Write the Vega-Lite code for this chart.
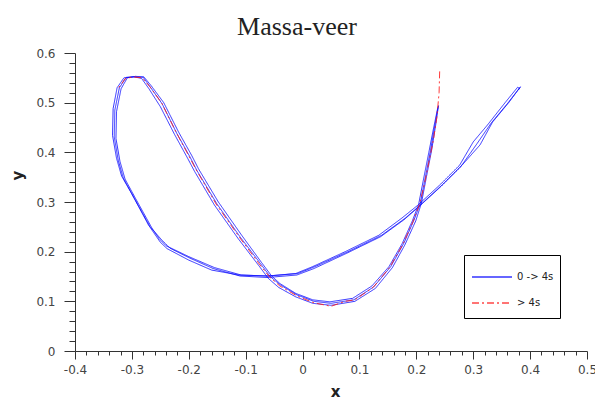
{
  "$schema": "https://vega.github.io/schema/vega-lite/v6.json",
  "width": 512,
  "height": 298,
  "autosize": {"type": "none"},
  "padding": {"left": 75, "top": 53, "right": 8, "bottom": 48},
  "background": "white",
  "config": {"view": {"stroke": null}},
  "title": {"text": "Massa-veer", "font": "Liberation Serif", "fontSize": 26, "fontWeight": "normal", "color": "#222", "anchor": "middle", "dx": -34, "dy": 31, "offset": 17, "baseline": "alphabetic"},
  "datasets": {
    "d": [
      {"s":"0 -> 4s","i":0,"x":0.238,"y":0.490},
      {"s":"0 -> 4s","i":1,"x":0.232,"y":0.451},
      {"s":"0 -> 4s","i":2,"x":0.225,"y":0.404},
      {"s":"0 -> 4s","i":3,"x":0.216,"y":0.351},
      {"s":"0 -> 4s","i":4,"x":0.207,"y":0.297},
      {"s":"0 -> 4s","i":5,"x":0.196,"y":0.264},
      {"s":"0 -> 4s","i":6,"x":0.178,"y":0.217},
      {"s":"0 -> 4s","i":7,"x":0.155,"y":0.170},
      {"s":"0 -> 4s","i":8,"x":0.125,"y":0.129},
      {"s":"0 -> 4s","i":9,"x":0.090,"y":0.103},
      {"s":"0 -> 4s","i":10,"x":0.050,"y":0.096},
      {"s":"0 -> 4s","i":11,"x":0.020,"y":0.100},
      {"s":"0 -> 4s","i":12,"x":-0.010,"y":0.113},
      {"s":"0 -> 4s","i":13,"x":-0.039,"y":0.133},
      {"s":"0 -> 4s","i":14,"x":-0.057,"y":0.150},
      {"s":"0 -> 4s","i":15,"x":-0.074,"y":0.176},
      {"s":"0 -> 4s","i":16,"x":-0.110,"y":0.230},
      {"s":"0 -> 4s","i":17,"x":-0.151,"y":0.297},
      {"s":"0 -> 4s","i":18,"x":-0.186,"y":0.364},
      {"s":"0 -> 4s","i":19,"x":-0.198,"y":0.391},
      {"s":"0 -> 4s","i":20,"x":-0.221,"y":0.438},
      {"s":"0 -> 4s","i":21,"x":-0.247,"y":0.498},
      {"s":"0 -> 4s","i":22,"x":-0.268,"y":0.532},
      {"s":"0 -> 4s","i":23,"x":-0.280,"y":0.551},
      {"s":"0 -> 4s","i":24,"x":-0.295,"y":0.552},
      {"s":"0 -> 4s","i":25,"x":-0.310,"y":0.551},
      {"s":"0 -> 4s","i":26,"x":-0.322,"y":0.530},
      {"s":"0 -> 4s","i":27,"x":-0.330,"y":0.485},
      {"s":"0 -> 4s","i":28,"x":-0.331,"y":0.431},
      {"s":"0 -> 4s","i":29,"x":-0.324,"y":0.384},
      {"s":"0 -> 4s","i":30,"x":-0.315,"y":0.348},
      {"s":"0 -> 4s","i":31,"x":-0.297,"y":0.310},
      {"s":"0 -> 4s","i":32,"x":-0.268,"y":0.250},
      {"s":"0 -> 4s","i":33,"x":-0.247,"y":0.223},
      {"s":"0 -> 4s","i":34,"x":-0.233,"y":0.207},
      {"s":"0 -> 4s","i":35,"x":-0.198,"y":0.187},
      {"s":"0 -> 4s","i":36,"x":-0.157,"y":0.166},
      {"s":"0 -> 4s","i":37,"x":-0.110,"y":0.151},
      {"s":"0 -> 4s","i":38,"x":-0.062,"y":0.148},
      {"s":"0 -> 4s","i":39,"x":-0.010,"y":0.153},
      {"s":"0 -> 4s","i":40,"x":0.020,"y":0.166},
      {"s":"0 -> 4s","i":41,"x":0.078,"y":0.197},
      {"s":"0 -> 4s","i":42,"x":0.137,"y":0.230},
      {"s":"0 -> 4s","i":43,"x":0.178,"y":0.264},
      {"s":"0 -> 4s","i":44,"x":0.204,"y":0.290},
      {"s":"0 -> 4s","i":45,"x":0.243,"y":0.331},
      {"s":"0 -> 4s","i":46,"x":0.278,"y":0.371},
      {"s":"0 -> 4s","i":47,"x":0.307,"y":0.418},
      {"s":"0 -> 4s","i":48,"x":0.331,"y":0.458},
      {"s":"0 -> 4s","i":49,"x":0.360,"y":0.498},
      {"s":"0 -> 4s","i":50,"x":0.381,"y":0.529},
      {"s":"0 -> 4s","i":51,"x":0.378,"y":0.531},
      {"s":"0 -> 4s","i":52,"x":0.356,"y":0.500},
      {"s":"0 -> 4s","i":53,"x":0.325,"y":0.455},
      {"s":"0 -> 4s","i":54,"x":0.300,"y":0.421},
      {"s":"0 -> 4s","i":55,"x":0.276,"y":0.374},
      {"s":"0 -> 4s","i":56,"x":0.241,"y":0.334},
      {"s":"0 -> 4s","i":57,"x":0.202,"y":0.293},
      {"s":"0 -> 4s","i":58,"x":0.175,"y":0.268},
      {"s":"0 -> 4s","i":59,"x":0.134,"y":0.233},
      {"s":"0 -> 4s","i":60,"x":0.075,"y":0.200},
      {"s":"0 -> 4s","i":61,"x":0.018,"y":0.170},
      {"s":"0 -> 4s","i":62,"x":-0.012,"y":0.156},
      {"s":"0 -> 4s","i":63,"x":-0.060,"y":0.151},
      {"s":"0 -> 4s","i":64,"x":-0.112,"y":0.153},
      {"s":"0 -> 4s","i":65,"x":-0.160,"y":0.163},
      {"s":"0 -> 4s","i":66,"x":-0.200,"y":0.183},
      {"s":"0 -> 4s","i":67,"x":-0.238,"y":0.206},
      {"s":"0 -> 4s","i":68,"x":-0.250,"y":0.219},
      {"s":"0 -> 4s","i":69,"x":-0.271,"y":0.254},
      {"s":"0 -> 4s","i":70,"x":-0.300,"y":0.316},
      {"s":"0 -> 4s","i":71,"x":-0.318,"y":0.352},
      {"s":"0 -> 4s","i":72,"x":-0.327,"y":0.388},
      {"s":"0 -> 4s","i":73,"x":-0.334,"y":0.434},
      {"s":"0 -> 4s","i":74,"x":-0.333,"y":0.488},
      {"s":"0 -> 4s","i":75,"x":-0.326,"y":0.530},
      {"s":"0 -> 4s","i":76,"x":-0.314,"y":0.550},
      {"s":"0 -> 4s","i":77,"x":-0.297,"y":0.552},
      {"s":"0 -> 4s","i":78,"x":-0.283,"y":0.549},
      {"s":"0 -> 4s","i":79,"x":-0.270,"y":0.528},
      {"s":"0 -> 4s","i":80,"x":-0.250,"y":0.492},
      {"s":"0 -> 4s","i":81,"x":-0.225,"y":0.436},
      {"s":"0 -> 4s","i":82,"x":-0.202,"y":0.388},
      {"s":"0 -> 4s","i":83,"x":-0.190,"y":0.362},
      {"s":"0 -> 4s","i":84,"x":-0.155,"y":0.294},
      {"s":"0 -> 4s","i":85,"x":-0.113,"y":0.226},
      {"s":"0 -> 4s","i":86,"x":-0.077,"y":0.172},
      {"s":"0 -> 4s","i":87,"x":-0.060,"y":0.146},
      {"s":"0 -> 4s","i":88,"x":-0.042,"y":0.128},
      {"s":"0 -> 4s","i":89,"x":-0.012,"y":0.109},
      {"s":"0 -> 4s","i":90,"x":0.018,"y":0.096},
      {"s":"0 -> 4s","i":91,"x":0.050,"y":0.092},
      {"s":"0 -> 4s","i":92,"x":0.092,"y":0.100},
      {"s":"0 -> 4s","i":93,"x":0.128,"y":0.126},
      {"s":"0 -> 4s","i":94,"x":0.158,"y":0.168},
      {"s":"0 -> 4s","i":95,"x":0.180,"y":0.214},
      {"s":"0 -> 4s","i":96,"x":0.199,"y":0.262},
      {"s":"0 -> 4s","i":97,"x":0.209,"y":0.298},
      {"s":"0 -> 4s","i":98,"x":0.218,"y":0.352},
      {"s":"0 -> 4s","i":99,"x":0.227,"y":0.405},
      {"s":"0 -> 4s","i":100,"x":0.234,"y":0.455},
      {"s":"0 -> 4s","i":101,"x":0.239,"y":0.494},
      {"s":"0 -> 4s","i":102,"x":0.237,"y":0.486},
      {"s":"0 -> 4s","i":103,"x":0.230,"y":0.447},
      {"s":"0 -> 4s","i":104,"x":0.222,"y":0.400},
      {"s":"0 -> 4s","i":105,"x":0.213,"y":0.348},
      {"s":"0 -> 4s","i":106,"x":0.204,"y":0.295},
      {"s":"0 -> 4s","i":107,"x":0.193,"y":0.262},
      {"s":"0 -> 4s","i":108,"x":0.175,"y":0.216},
      {"s":"0 -> 4s","i":109,"x":0.152,"y":0.170},
      {"s":"0 -> 4s","i":110,"x":0.122,"y":0.131},
      {"s":"0 -> 4s","i":111,"x":0.088,"y":0.106},
      {"s":"0 -> 4s","i":112,"x":0.048,"y":0.099},
      {"s":"0 -> 4s","i":113,"x":0.018,"y":0.103},
      {"s":"0 -> 4s","i":114,"x":-0.012,"y":0.116},
      {"s":"0 -> 4s","i":115,"x":-0.040,"y":0.136},
      {"s":"0 -> 4s","i":116,"x":-0.055,"y":0.152},
      {"s":"0 -> 4s","i":117,"x":-0.072,"y":0.178},
      {"s":"0 -> 4s","i":118,"x":-0.107,"y":0.233},
      {"s":"0 -> 4s","i":119,"x":-0.148,"y":0.300},
      {"s":"0 -> 4s","i":120,"x":-0.183,"y":0.367},
      {"s":"0 -> 4s","i":121,"x":-0.195,"y":0.394},
      {"s":"0 -> 4s","i":122,"x":-0.218,"y":0.441},
      {"s":"0 -> 4s","i":123,"x":-0.244,"y":0.500},
      {"s":"0 -> 4s","i":124,"x":-0.266,"y":0.534},
      {"s":"0 -> 4s","i":125,"x":-0.279,"y":0.552},
      {"s":"0 -> 4s","i":126,"x":-0.294,"y":0.553},
      {"s":"0 -> 4s","i":127,"x":-0.308,"y":0.550},
      {"s":"0 -> 4s","i":128,"x":-0.319,"y":0.528},
      {"s":"0 -> 4s","i":129,"x":-0.327,"y":0.482},
      {"s":"0 -> 4s","i":130,"x":-0.328,"y":0.428},
      {"s":"0 -> 4s","i":131,"x":-0.321,"y":0.382},
      {"s":"0 -> 4s","i":132,"x":-0.312,"y":0.346},
      {"s":"0 -> 4s","i":133,"x":-0.294,"y":0.308},
      {"s":"0 -> 4s","i":134,"x":-0.265,"y":0.248},
      {"s":"0 -> 4s","i":135,"x":-0.252,"y":0.226},
      {"s":"0 -> 4s","i":136,"x":-0.240,"y":0.212},
      {"s":"0 -> 4s","i":137,"x":-0.200,"y":0.190},
      {"s":"0 -> 4s","i":138,"x":-0.155,"y":0.168},
      {"s":"0 -> 4s","i":139,"x":-0.108,"y":0.153},
      {"s":"0 -> 4s","i":140,"x":-0.062,"y":0.151},
      {"s":"0 -> 4s","i":141,"x":-0.008,"y":0.156},
      {"s":"0 -> 4s","i":142,"x":0.022,"y":0.170},
      {"s":"0 -> 4s","i":143,"x":0.080,"y":0.200},
      {"s":"0 -> 4s","i":144,"x":0.139,"y":0.233},
      {"s":"0 -> 4s","i":145,"x":0.180,"y":0.267},
      {"s":"0 -> 4s","i":146,"x":0.206,"y":0.293},
      {"s":"0 -> 4s","i":147,"x":0.246,"y":0.335},
      {"s":"0 -> 4s","i":148,"x":0.281,"y":0.375},
      {"s":"0 -> 4s","i":149,"x":0.312,"y":0.415},
      {"s":"0 -> 4s","i":150,"x":0.334,"y":0.461},
      {"s":"0 -> 4s","i":151,"x":0.363,"y":0.501},
      {"s":"0 -> 4s","i":152,"x":0.383,"y":0.532},
      {"s":"0 -> 4s","i":153,"x":0.380,"y":0.526},
      {"s":"> 4s","i":0,"x":0.241,"y":0.563},
      {"s":"> 4s","i":1,"x":0.240,"y":0.520},
      {"s":"> 4s","i":2,"x":0.236,"y":0.470},
      {"s":"> 4s","i":3,"x":0.230,"y":0.425},
      {"s":"> 4s","i":4,"x":0.222,"y":0.380},
      {"s":"> 4s","i":5,"x":0.214,"y":0.335},
      {"s":"> 4s","i":6,"x":0.206,"y":0.297},
      {"s":"> 4s","i":7,"x":0.194,"y":0.260},
      {"s":"> 4s","i":8,"x":0.176,"y":0.214},
      {"s":"> 4s","i":9,"x":0.153,"y":0.168},
      {"s":"> 4s","i":10,"x":0.124,"y":0.128},
      {"s":"> 4s","i":11,"x":0.092,"y":0.103},
      {"s":"> 4s","i":12,"x":0.075,"y":0.100},
      {"s":"> 4s","i":13,"x":0.050,"y":0.090},
      {"s":"> 4s","i":14,"x":0.020,"y":0.097},
      {"s":"> 4s","i":15,"x":-0.010,"y":0.111},
      {"s":"> 4s","i":16,"x":-0.040,"y":0.131},
      {"s":"> 4s","i":17,"x":-0.058,"y":0.149},
      {"s":"> 4s","i":18,"x":-0.076,"y":0.175},
      {"s":"> 4s","i":19,"x":-0.111,"y":0.229},
      {"s":"> 4s","i":20,"x":-0.152,"y":0.296},
      {"s":"> 4s","i":21,"x":-0.187,"y":0.365},
      {"s":"> 4s","i":22,"x":-0.222,"y":0.440},
      {"s":"> 4s","i":23,"x":-0.248,"y":0.500},
      {"s":"> 4s","i":24,"x":-0.269,"y":0.533},
      {"s":"> 4s","i":25,"x":-0.282,"y":0.550},
      {"s":"> 4s","i":26,"x":-0.298,"y":0.552},
      {"s":"> 4s","i":27,"x":-0.312,"y":0.548},
      {"s":"> 4s","i":28,"x":-0.320,"y":0.535},
      {"s":"> 4s","i":29,"x":-0.325,"y":0.528}
    ]
  },
  "data": {"name": "d"},
  "layer": [
    {
      "transform": [{"filter": "datum.s == '0 -> 4s'"}],
      "mark": {"type": "line", "strokeWidth": 1, "opacity": 0.8},
      "encoding": {
        "x": {"field": "x", "type": "quantitative", "scale": {"domain": [-0.4, 0.5], "nice": false, "zero": false},
          "axis": {"orient": "bottom", "values": [-0.4, -0.3, -0.2, -0.1, 0, 0.1, 0.2, 0.3, 0.4, 0.5], "grid": false, "tickSize": 8, "tickColor": "#333", "domainColor": "#333", "labelPadding": 5, "labelFont": "DejaVu Sans", "labelFontSize": 12, "labelColor": "#444", "labelFlush": false, "labelOverlap": false, "labelExpr": "datum.value < 0 ? '-' + format(-datum.value, '~g') : format(datum.value, '~g')", "title": "x", "titleFont": "DejaVu Sans", "titleFontSize": 15, "titleFontWeight": "bold", "titleColor": "#222", "titleX": 260, "titleY": 45, "titleBaseline": "alphabetic", "titleAlign": "center"}},
        "y": {"field": "y", "type": "quantitative", "scale": {"domain": [0, 0.6], "nice": false, "zero": false},
          "axis": {"orient": "left", "values": [0, 0.1, 0.2, 0.3, 0.4, 0.5, 0.6], "grid": false, "tickSize": 11, "tickColor": "#333", "domainColor": "#333", "labelPadding": 9, "labelFont": "DejaVu Sans", "labelFontSize": 12, "labelColor": "#444", "labelFlush": false, "labelOverlap": false, "labelBaseline": "middle", "labelExpr": "format(datum.value, '~g')", "title": "y", "titleFont": "DejaVu Sans", "titleFontSize": 15, "titleFontWeight": "bold", "titleColor": "#222", "titleAngle": -90, "titleX": -53, "titleY": 122, "titleBaseline": "alphabetic", "titleAlign": "center"}},
        "order": {"field": "i", "type": "quantitative"},
        "color": {"field": "s", "type": "nominal", "scale": {"domain": ["0 -> 4s", "> 4s"], "range": ["#0000ff", "#ff1a1a"]},
          "legend": {"title": null, "orient": "none", "legendX": 389, "legendY": 202, "strokeColor": "black", "fillColor": "white", "padding": 6, "symbolType": "M-1.333,0H1.333M0,0.4", "symbolSize": 900, "symbolOffset": 6, "symbolStrokeWidth": 1.3, "labelFont": "DejaVu Sans", "labelFontSize": 10, "labelColor": "#222", "labelOffset": 9, "rowPadding": 1}},
        "strokeDash": {"field": "s", "type": "nominal", "scale": {"domain": ["0 -> 4s", "> 4s"], "range": [[1, 0], [7, 3, 2, 3]]},
          "legend": {"title": null, "orient": "none", "legendX": 389, "legendY": 202, "strokeColor": "black", "fillColor": "white", "padding": 6, "symbolType": "M-1.333,0H1.333M0,0.4", "symbolSize": 900, "symbolOffset": 6, "symbolStrokeWidth": 1.3, "labelFont": "DejaVu Sans", "labelFontSize": 10, "labelColor": "#222", "labelOffset": 9, "rowPadding": 1}}
      }
    },
    {
      "transform": [{"filter": "datum.s == '> 4s'"}],
      "mark": {"type": "line", "strokeWidth": 1, "opacity": 0.85},
      "encoding": {
        "x": {"field": "x", "type": "quantitative",
          "axis": {"orient": "bottom", "values": [-0.38, -0.36, -0.34, -0.32, -0.28, -0.26, -0.24, -0.22, -0.18, -0.16, -0.14, -0.12, -0.08, -0.06, -0.04, -0.02, 0.02, 0.04, 0.06, 0.08, 0.12, 0.14, 0.16, 0.18, 0.22, 0.24, 0.26, 0.28, 0.32, 0.34, 0.36, 0.38, 0.42, 0.44, 0.46, 0.48], "labels": false, "domain": false, "grid": false, "tickSize": 4, "tickColor": "#333", "title": null}},
        "y": {"field": "y", "type": "quantitative",
          "axis": {"orient": "left", "values": [0.02, 0.04, 0.06, 0.08, 0.12, 0.14, 0.16, 0.18, 0.22, 0.24, 0.26, 0.28, 0.32, 0.34, 0.36, 0.38, 0.42, 0.44, 0.46, 0.48, 0.52, 0.54, 0.56, 0.58], "labels": false, "domain": false, "grid": false, "tickSize": 6, "tickColor": "#333", "title": null}},
        "order": {"field": "i", "type": "quantitative"},
        "color": {"field": "s", "type": "nominal"},
        "strokeDash": {"field": "s", "type": "nominal"}
      }
    }
  ],
  "resolve": {"axis": {"x": "independent", "y": "independent"}}
}
